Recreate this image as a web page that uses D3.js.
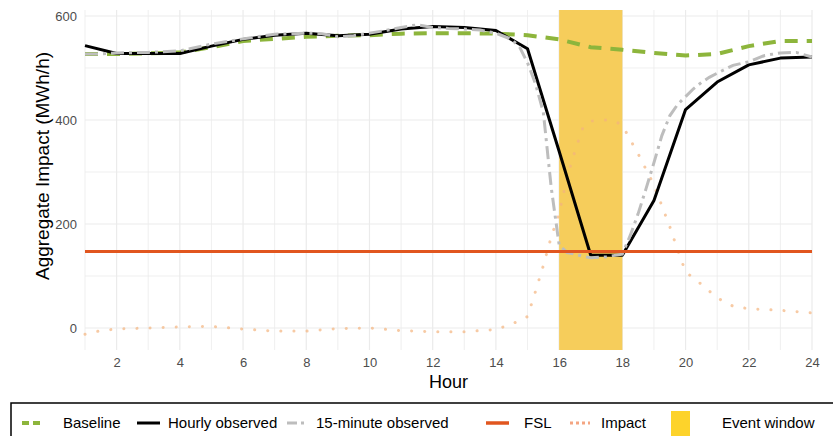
<!DOCTYPE html>
<html>
<head>
<meta charset="utf-8">
<title>Aggregate Impact</title>
<script src="https://cdn.jsdelivr.net/npm/d3@7"></script>
<style>
  body { margin: 0; background: #fff; }
  text { font-family: "Liberation Sans", Arial, sans-serif; }
  .tick text { fill: #4d4d4d; font-size: 13px; }
</style>
</head>
<body>
<svg width="833" height="436"></svg>
<script>
// ---- data ----
var hours = d3.range(1, 25);
var baseline = [527, 527, 528, 530, 540, 552, 556, 560, 562, 563, 566, 567,
                567, 566, 563, 555, 540, 535, 529, 524, 527, 542, 552, 552];
var hourly = [543, 528, 528, 528, 542, 555, 563, 567, 562, 565, 575, 580,
              578, 572, 537, 340, 140, 140, 245, 420, 473, 506, 519, 521];
// 15-minute observed: [hour, value]
var quarter = [[1, 527], [1.5, 527], [2, 529], [3, 530], [4, 533], [5, 546], [6, 556],
  [7, 565], [8, 567], [8.5, 566], [9, 560], [9.5, 562], [10, 567], [10.5, 572], [11, 578],
  [11.5, 583], [12, 578], [12.5, 576], [13, 575], [13.5, 573], [14, 567], [14.5, 555],
  [14.75, 540], [15, 510], [15.25, 470], [15.5, 415], [15.75, 270], [16, 160], [16.25, 145],
  [16.5, 142], [16.75, 138], [17, 135], [17.5, 137], [18, 142], [18.25, 178], [18.5, 220],
  [18.75, 268], [19, 318], [19.25, 370], [19.5, 408], [19.75, 430], [20, 445], [20.25, 460],
  [20.5, 472], [20.75, 482], [21, 490], [21.5, 505], [22, 512], [22.5, 524], [23, 529],
  [23.5, 530], [24, 521]];
var impact = [[1, -12], [1.5, -5], [2, -2], [3, 0], [4, 2], [5, 3], [6, -2], [7, -6], [8, -6],
  [9, -1], [10, 0], [11, -5], [12, -7], [13, -7], [14, -3], [14.5, 8], [14.75, 14], [15, 22],
  [15.25, 70], [15.5, 120], [15.75, 175], [16, 220], [16.25, 290], [16.5, 340], [16.75, 385],
  [17, 398], [17.5, 400], [17.75, 398], [18, 390], [18.25, 362], [18.5, 335], [18.75, 305],
  [19, 275], [19.25, 235], [19.5, 195], [19.75, 150], [20, 108], [20.5, 84], [21, 58],
  [21.5, 42], [22, 37], [23, 34], [24, 29]];
var fsl = 147;
var eventWindow = [16, 18];
var xTicks = [2, 4, 6, 8, 10, 12, 14, 16, 18, 20, 22, 24];
var yTicks = [0, 200, 400, 600];
var legendLabels = ["Baseline", "Hourly observed", "15-minute observed", "FSL", "Impact", "Event window"];

// ---- layout ----
var svg = d3.select("svg");
var pLeft = 85, pRight = 812, pTop = 10, pBottom = 350;

var x = d3.scaleLinear().domain([1, 24]).range([pLeft, pRight]);
var y = d3.scaleLinear().domain([-42.3, 611.5]).range([pBottom, pTop]);

var grid = svg.append("g");
// minor + major gridlines
grid.selectAll(".vx").data(hours).enter().append("line")
    .attr("x1", function(d) { return x(d); }).attr("x2", function(d) { return x(d); })
    .attr("y1", pTop).attr("y2", pBottom)
    .attr("stroke", "#ebebeb").attr("stroke-width", function(d) { return d % 2 ? 0.8 : 1.2; });
grid.selectAll(".hy").data([0, 100, 200, 300, 400, 500, 600]).enter().append("line")
    .attr("x1", pLeft).attr("x2", pRight)
    .attr("y1", function(d) { return y(d); }).attr("y2", function(d) { return y(d); })
    .attr("stroke", "#ebebeb").attr("stroke-width", function(d) { return d % 200 ? 0.8 : 1.2; });

// event window
svg.append("rect")
    .attr("x", x(eventWindow[0])).attr("width", x(eventWindow[1]) - x(eventWindow[0]))
    .attr("y", pTop).attr("height", pBottom - pTop)
    .attr("fill", "#f6cd5b");

var line = d3.line().x(function(d) { return x(d[0]); }).y(function(d) { return y(d[1]); });

// impact (dotted)
svg.append("path").datum(impact)
    .attr("d", line).attr("fill", "none")
    .attr("stroke", "#f3b47e").attr("stroke-opacity", 0.7)
    .attr("stroke-width", 3).attr("stroke-linecap", "round")
    .attr("stroke-dasharray", "0.1 13");

// baseline (dashed green)
svg.append("path").datum(hours.map(function(h, i) { return [h, baseline[i]]; }))
    .attr("d", line).attr("fill", "none")
    .attr("stroke", "#8db53c").attr("stroke-width", 4)
    .attr("stroke-dasharray", "13 9");

// hourly observed
svg.append("path").datum(hours.map(function(h, i) { return [h, hourly[i]]; }))
    .attr("d", line).attr("fill", "none")
    .attr("stroke", "#000").attr("stroke-width", 3).attr("stroke-linejoin", "round");

// 15-minute observed (dash-dot grey)
svg.append("path").datum(quarter)
    .attr("d", line).attr("fill", "none")
    .attr("stroke", "#bdbdbd").attr("stroke-width", 3)
    .attr("stroke-dasharray", "13 5 3 5");

// FSL
svg.append("line")
    .attr("x1", pLeft).attr("x2", pRight)
    .attr("y1", y(fsl)).attr("y2", y(fsl))
    .attr("stroke", "#e1561f").attr("stroke-width", 3);

// axes
var xAxis = svg.append("g").attr("transform", "translate(0," + pBottom + ")")
    .call(d3.axisBottom(x).tickValues(xTicks).tickSize(0).tickPadding(8));
xAxis.select(".domain").remove();
var yAxis = svg.append("g").attr("transform", "translate(" + pLeft + ",0)")
    .call(d3.axisLeft(y).tickValues(yTicks).tickSize(0).tickPadding(8));
yAxis.select(".domain").remove();

svg.append("text")
    .attr("x", (pLeft + pRight) / 2).attr("y", 388)
    .attr("text-anchor", "middle").attr("font-size", 18).attr("fill", "#000")
    .text("Hour");
svg.append("text")
    .attr("transform", "translate(49,166) rotate(-90)")
    .attr("text-anchor", "middle").attr("font-size", 19).attr("fill", "#000")
    .text("Aggregate Impact (MWh/h)");

// ---- legend ----
var leg = svg.append("g");
leg.append("rect").attr("x", 11).attr("y", 403).attr("width", 840).attr("height", 50)
    .attr("fill", "#fff").attr("stroke", "#000").attr("stroke-width", 1.5);

var ly = 423;
var swatches = [
  { x0: 22, x1: 40, stroke: "#8db53c", w: 4, dash: "7 4" },
  { x0: 137, x1: 160, stroke: "#000", w: 3, dash: null },
  { x0: 287, x1: 307, stroke: "#bdbdbd", w: 3, dash: "10 4 3 4" },
  { x0: 486, x1: 509, stroke: "#e1561f", w: 3.5, dash: null },
  { x0: 570, x1: 590, stroke: "#f4a582", w: 3, dash: "3 3" }
];
leg.selectAll(".sw").data(swatches).enter().append("line")
    .attr("x1", function(d) { return d.x0; }).attr("x2", function(d) { return d.x1; })
    .attr("y1", ly).attr("y2", ly)
    .attr("stroke", function(d) { return d.stroke; })
    .attr("stroke-width", function(d) { return d.w; })
    .attr("stroke-dasharray", function(d) { return d.dash; });
leg.append("rect").attr("x", 671).attr("y", 411).attr("width", 19).attr("height", 25)
    .attr("fill", "#fdd32b");

var textX = [63, 168, 316, 524, 601, 722];
leg.selectAll(".lt").data(legendLabels).enter().append("text")
    .attr("x", function(d, i) { return textX[i]; })
    .attr("y", ly + 5)
    .attr("font-size", 15).attr("fill", "#000")
    .text(function(d) { return d; });
</script>
</body>
</html>
